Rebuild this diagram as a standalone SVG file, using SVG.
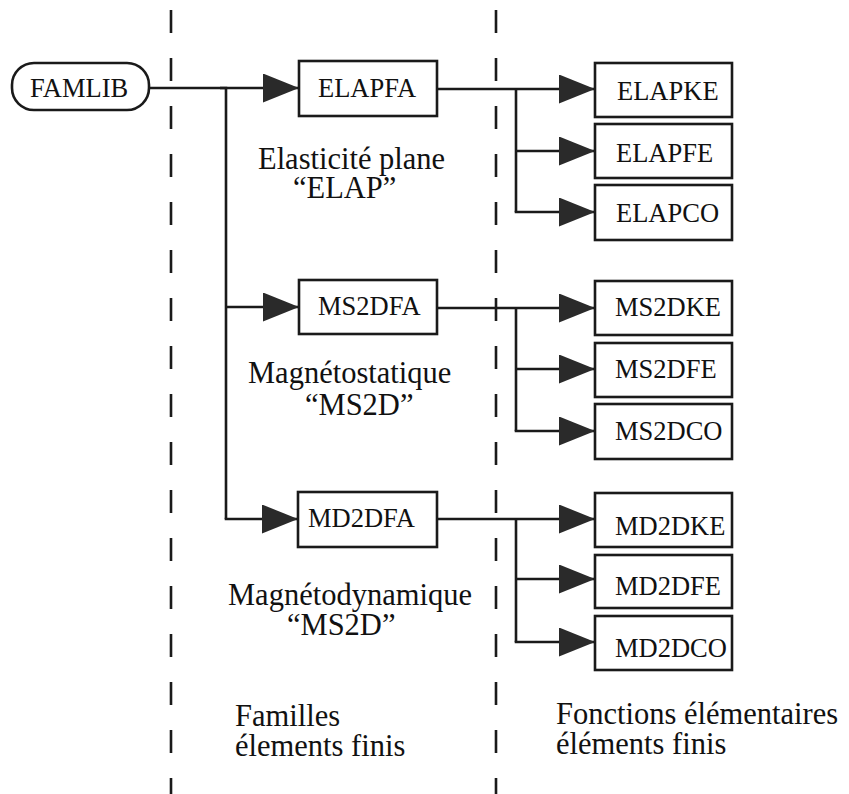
<svg xmlns="http://www.w3.org/2000/svg" width="849" height="794" viewBox="0 0 849 794">
<style>
  .box { fill: #fff; stroke: #1a1a1a; stroke-width: 2.6; }
  .node { font-family: "Liberation Serif", "Times New Roman", serif; font-size: 26.5px; fill: #111; }
  .lbl { font-family: "Liberation Serif", "Times New Roman", serif; font-size: 30.5px; fill: #111; }
  .wire { fill: none; stroke: #1a1a1a; stroke-width: 2.6; }
  .arr { fill: none; stroke: #1a1a1a; stroke-width: 2.6; marker-end: url(#head); }
  .dash { stroke: #1a1a1a; stroke-width: 2.6; stroke-dasharray: 23 25; }
</style>
<defs>
  <marker id="head" markerUnits="userSpaceOnUse" markerWidth="37" markerHeight="29" refX="36" refY="14.5" orient="auto">
    <path d="M0,0 L36,14.5 L0,29 Z" fill="#2a2a2a"/>
  </marker>
</defs>
<rect width="849" height="794" fill="#fff"/>

<g id="separators">
  <line class="dash" x1="171" y1="10" x2="171" y2="794"/>
  <line class="dash" x1="496" y1="10" x2="496" y2="794"/>
</g>

<g id="connectors">
  <path class="wire" d="M149,88 H226 V519"/>
  <path class="arr" d="M220,88 H299"/>
  <path class="arr" d="M226,307 H299"/>
  <path class="arr" d="M224.7,519 H298"/>

  <path class="arr" d="M437,89 H595"/>
  <path class="wire" d="M516,89 V212"/>
  <path class="arr" d="M516,151 H595"/>
  <path class="arr" d="M514.7,212 H595"/>

  <path class="arr" d="M437,308 H595"/>
  <path class="wire" d="M516,308 V431"/>
  <path class="arr" d="M516,369 H595"/>
  <path class="arr" d="M514.7,431 H595"/>

  <path class="arr" d="M437,519 H595"/>
  <path class="wire" d="M516,519 V642"/>
  <path class="arr" d="M516,579 H595"/>
  <path class="arr" d="M514.7,642 H595"/>
</g>

<g id="FAMLIB">
  <rect class="box" x="12" y="63" width="137" height="47" rx="22" ry="22"/>
  <text class="node" x="30" y="97">FAMLIB</text>
</g>

<g id="ELAPFA">
  <rect class="box" x="299" y="61" width="138" height="55"/>
  <text class="node" x="318" y="97">ELAPFA</text>
</g>
<g id="MS2DFA">
  <rect class="box" x="299" y="280" width="138" height="54"/>
  <text class="node" x="318" y="315">MS2DFA</text>
</g>
<g id="MD2DFA">
  <rect class="box" x="298" y="492" width="139" height="55"/>
  <text class="node" x="308" y="527">MD2DFA</text>
</g>

<g id="ELAPKE">
  <rect class="box" x="595" y="63" width="137" height="54"/>
  <text class="node" x="617" y="100">ELAPKE</text>
</g>
<g id="ELAPFE">
  <rect class="box" x="595" y="124" width="137" height="54"/>
  <text class="node" x="616" y="162">ELAPFE</text>
</g>
<g id="ELAPCO">
  <rect class="box" x="595" y="185" width="137" height="55"/>
  <text class="node" x="616" y="222">ELAPCO</text>
</g>

<g id="MS2DKE">
  <rect class="box" x="595" y="281" width="137" height="54"/>
  <text class="node" x="615" y="316">MS2DKE</text>
</g>
<g id="MS2DFE">
  <rect class="box" x="595" y="343" width="137" height="54"/>
  <text class="node" x="615" y="378">MS2DFE</text>
</g>
<g id="MS2DCO">
  <rect class="box" x="595" y="404" width="137" height="55"/>
  <text class="node" x="615" y="440">MS2DCO</text>
</g>

<g id="MD2DKE">
  <rect class="box" x="595" y="493" width="137" height="54"/>
  <text class="node" x="615" y="535">MD2DKE</text>
</g>
<g id="MD2DFE">
  <rect class="box" x="595" y="555" width="137" height="53"/>
  <text class="node" x="615" y="595">MD2DFE</text>
</g>
<g id="MD2DCO">
  <rect class="box" x="595" y="616" width="137" height="54"/>
  <text class="node" x="615" y="657">MD2DCO</text>
</g>

<g id="labels">
  <text class="lbl" x="258" y="169">Elasticité plane</text>
  <text class="lbl" x="293" y="198">“ELAP”</text>
  <text class="lbl" x="248" y="383">Magnétostatique</text>
  <text class="lbl" x="305" y="415">“MS2D”</text>
  <text class="lbl" x="228" y="605">Magnétodynamique</text>
  <text class="lbl" x="287" y="635">“MS2D”</text>
  <text class="lbl" x="235" y="726">Familles</text>
  <text class="lbl" x="235" y="756">élements finis</text>
  <text class="lbl" x="556" y="724">Fonctions élémentaires</text>
  <text class="lbl" x="556" y="754">éléments finis</text>
</g>
</svg>
